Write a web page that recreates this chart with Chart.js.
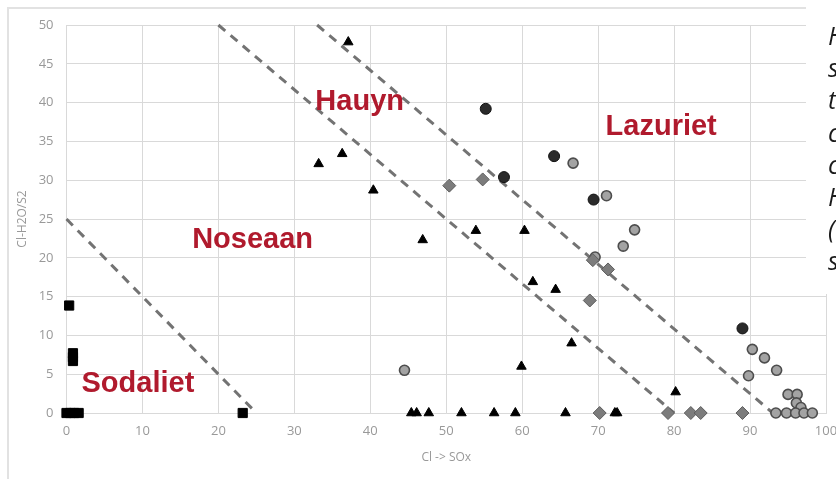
<!DOCTYPE html>
<html><head><meta charset="utf-8">
<script src="https://cdn.jsdelivr.net/npm/chart.js@4/dist/chart.umd.min.js"></script>
<style>html,body{margin:0;padding:0;background:#fff;overflow:hidden;width:836px;height:479px}canvas{display:block}</style>
</head><body>
<canvas id="c" width="850" height="479" style="width:850px;height:479px"></canvas>
<script>
// ---- data ----
const xTicks = [0,10,20,30,40,50,60,70,80,90,100];
const yTicks = [0,5,10,15,20,25,30,35,40,45,50];
const xTitle = "Cl -> SOx";
const yTitle = "Cl-H2O/S2";

// Sodaliet group (black squares)
const squareX = [0.35, 0.85, 0.85, 0.85, 0, 0.5, 1.0, 1.6, 23.2];
const squareY = [13.85, 6.7, 7.2, 7.7, 0, 0, 0, 0, 0];

// black triangles
const triangleX = [37.1, 33.2, 36.3, 40.4, 46.9, 53.9, 60.3, 61.4, 64.4, 66.5, 59.9, 80.2, 45.4, 46.1, 47.7, 52.0, 56.3, 59.1, 65.7, 72.2, 72.5];
const triangleY = [47.8, 32.1, 33.4, 28.7, 22.3, 23.5, 23.5, 16.9, 15.9, 9.0, 6.0, 2.7, 0, 0, 0, 0, 0, 0, 0, 0, 0];

// grey diamonds
const diamondX = [50.4, 54.8, 69.3, 71.3, 68.9, 70.2, 79.2, 82.2, 83.5, 89.0];
const diamondY = [29.3, 30.1, 19.7, 18.5, 14.5, 0, 0, 0, 0, 0];

// dark circles
const darkCircleX = [55.2, 57.6, 64.2, 69.4, 89.0];
const darkCircleY = [39.2, 30.4, 33.1, 27.5, 10.9];

// light grey circles
const lightCircleX = [44.5, 66.7, 71.1, 74.8, 73.3, 69.6, 90.3, 91.9, 93.5, 89.8, 95.0, 96.2, 96.1, 96.7, 93.4, 94.8, 96.0, 97.1, 98.2];
const lightCircleY = [5.5, 32.2, 28.0, 23.6, 21.5, 20.1, 8.2, 7.1, 5.5, 4.8, 2.4, 2.4, 1.3, 0.7, 0, 0, 0, 0, 0];

// dashed boundary lines (end points)
const boundary1X = [0, 25],  boundary1Y = [25, 0];
const boundary2X = [20, 80], boundary2Y = [50, 0];
const boundary3X = [33, 93], boundary3Y = [50, 0];

// region labels (data coordinates: centre x, baseline y)
const regionNames = ["Hauyn", "Lazuriet", "Noseaan", "Sodaliet"];
const regionX = [38.6, 78.3, 24.5, 9.4];
const regionY = [39.0, 35.8, 21.3, 2.7];

// cut-off side text column
const sideText = ["H", "s", "t", "c", "c", "H", "(", "s"];

const pts = (xs, ys) => xs.map((x, i) => ({x, y: ys[i]}));

const decor = {
  id: 'decor',
  beforeDraw(chart) {
    const ctx = chart.ctx;
    ctx.save();
    ctx.strokeStyle = '#e2e2e2';
    ctx.lineWidth = 2;
    ctx.beginPath();
    ctx.moveTo(8, 479); ctx.lineTo(8, 8); ctx.lineTo(850, 8);
    ctx.stroke();
    ctx.restore();
  },
  afterDatasetsDraw(chart) {
    const ctx = chart.ctx, xs = chart.scales.x, ys = chart.scales.y;
    ctx.save();
    ctx.fillStyle = '#b01a2d';
    ctx.font = 'bold 29px "Liberation Sans", Arial, sans-serif';
    ctx.textAlign = 'center';
    ctx.textBaseline = 'alphabetic';
    regionNames.forEach((t, i) => {
      ctx.fillText(t, xs.getPixelForValue(regionX[i]), ys.getPixelForValue(regionY[i]));
    });
    ctx.restore();
  },
  afterDraw(chart) {
    const ctx = chart.ctx;
    ctx.save();
    ctx.fillStyle = '#ffffff';
    ctx.fillRect(806, 0, 60, 294);
    ctx.fillStyle = '#1a1a1a';
    ctx.font = 'italic 25px "Open Sans", sans-serif';
    ctx.textAlign = 'left';
    ctx.textBaseline = 'alphabetic';
    sideText.forEach((t, i) => ctx.fillText(t, 828, 45 + 32.2 * i));
    ctx.restore();
  }
};

const dashed = (xs, ys) => ({
  type: 'line', data: pts(xs, ys), borderColor: '#737373', borderWidth: 3,
  borderDash: [9, 7], pointRadius: 0, fill: false, showLine: true, order: 10, clip: false
});

new Chart(document.getElementById('c'), {
  type: 'scatter',
  data: {
    datasets: [
      {label: 'light', data: pts(lightCircleX, lightCircleY), pointStyle: 'circle', pointRadius: 5,
        backgroundColor: '#a3a3a3', borderColor: '#4d4d4d', borderWidth: 1.6, order: 5, clip: false},
      {label: 'dark', data: pts(darkCircleX, darkCircleY), pointStyle: 'circle', pointRadius: 5.5,
        backgroundColor: '#2a2a2a', borderColor: '#111', borderWidth: 1, order: 4, clip: false},
      {label: 'diamond', data: pts(diamondX, diamondY), pointStyle: 'rectRot', pointRadius: 6.5,
        backgroundColor: '#7c7c7c', borderColor: '#5c5c5c', borderWidth: 1, order: 3, clip: false},
      {label: 'tri', data: pts(triangleX, triangleY), pointStyle: 'triangle', pointRadius: 5.5,
        backgroundColor: '#000', borderColor: '#000', borderWidth: 1, order: 2, clip: false},
      {label: 'sq', data: pts(squareX, squareY), pointStyle: 'rect', pointRadius: 6.5,
        backgroundColor: '#000', borderColor: '#000', borderWidth: 1, order: 1, clip: false},
      dashed(boundary1X, boundary1Y),
      dashed(boundary2X, boundary2Y),
      dashed(boundary3X, boundary3Y)
    ]
  },
  options: {
    responsive: false, animation: false, devicePixelRatio: 1,
    layout: {padding: {left: 0, right: 24, top: 25, bottom: 0}},
    plugins: {legend: {display: false}, tooltip: {enabled: false}},
    scales: {
      x: {
        type: 'linear', min: 0, max: 100,
        afterBuildTicks: s => { s.ticks = xTicks.map(v => ({value: v})); },
        afterFit: s => { s.height = 66; },
        grid: {color: '#d9d9d9', lineWidth: 1, drawTicks: false},
        border: {color: '#d9d9d9'},
        ticks: {color: '#999999', font: {family: '"Open Sans", sans-serif', size: 13}, padding: 10, maxRotation: 0},
        title: {display: true, text: xTitle, color: '#999999', font: {family: '"Open Sans", sans-serif', size: 12}, padding: {top: 0, bottom: 14}}
      },
      y: {
        type: 'linear', min: 0, max: 50,
        afterBuildTicks: s => { s.ticks = yTicks.map(v => ({value: v})); },
        afterFit: s => { s.width = 66.5; },
        grid: {color: '#d9d9d9', lineWidth: 1, drawTicks: false},
        border: {color: '#d9d9d9'},
        ticks: {color: '#999999', font: {family: '"Open Sans", sans-serif', size: 13}, padding: 13},
        title: {display: true, text: yTitle, color: '#999999', font: {family: '"Open Sans", sans-serif', size: 12}, padding: {top: 15, bottom: 0}}
      }
    }
  },
  plugins: [decor]
});
</script>
</body></html>
